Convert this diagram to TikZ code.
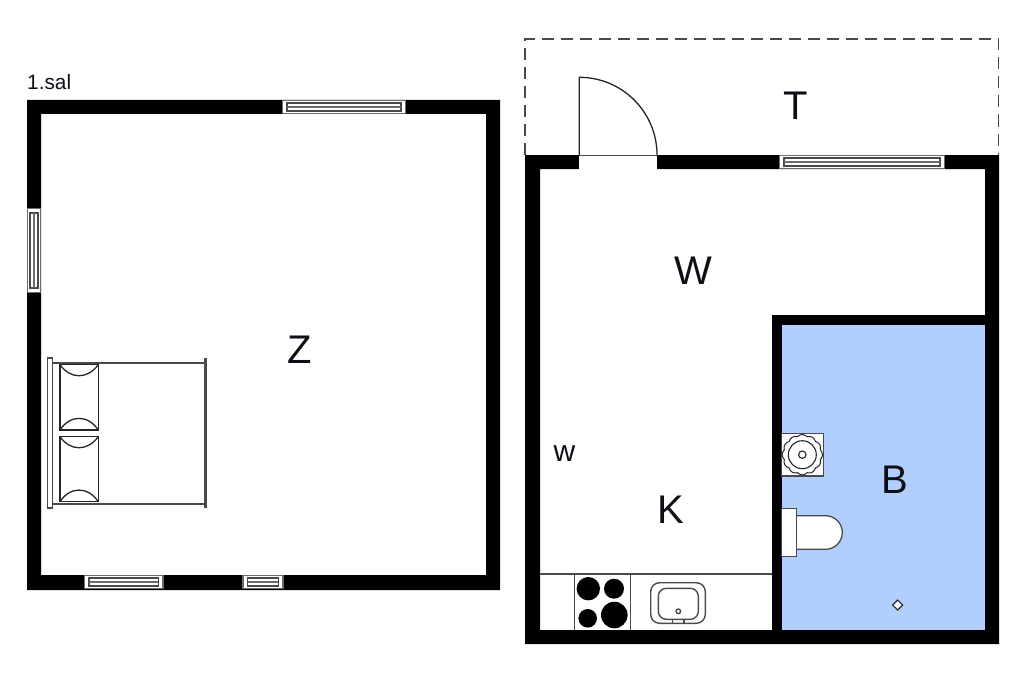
\documentclass[tikz,border=0pt]{standalone}
\usepackage{fontspec}
\setmainfont{Liberation Sans}
\definecolor{bathblue}{HTML}{B0CFFF}
\definecolor{linegrey}{HTML}{4A4A4A}
\definecolor{inkdark}{HTML}{0E0E16}
\newcommand{\hwin}[3]{%
  \fill[white] (#1,#3) rectangle (#2,#3+14);
  \draw[wingrey] (#1,#3+0.5) -- (#2,#3+0.5) (#1,#3+13.5) -- (#2,#3+13.5) (#1+0.5,#3) -- (#1+0.5,#3+14) (#2-0.5,#3) -- (#2-0.5,#3+14);
  \draw[winline] (#1+5,#3+3) rectangle (#2-5,#3+11);
  \draw[wingrey] (#1+5,#3+7) -- (#2-5,#3+7);
}
\newcommand{\vwin}[3]{%
  \fill[white] (#1,#2) rectangle (#1+14,#3);
  \draw[wingrey] (#1+0.5,#2) -- (#1+0.5,#3) (#1+13.5,#2) -- (#1+13.5,#3) (#1,#2+0.5) -- (#1+14,#2+0.5) (#1,#3-0.5) -- (#1+14,#3-0.5);
  \draw[winline] (#1+3,#2+5) rectangle (#1+11,#3-5);
  \draw[wingrey] (#1+7,#2+5) -- (#1+7,#3-5);
}
\newcommand{\pillow}[2]{%
  \draw[fixture] (60,#1) rectangle (98.3,#2);
  \draw[fixture] (60,#1) .. controls (70,#1+15) and (88,#1+15) .. (98.3,#1);
  \draw[fixture] (60,#2) .. controls (70,#2-15.5) and (88,#2-15.5) .. (98.3,#2);
}
\tikzset{
  wingrey/.style={draw=gray!85!black,line width=1.5pt},
  winline/.style={draw=linegrey,line width=1.3pt},
  fixture/.style={draw=black!85,line width=1.3pt},
  thinline/.style={draw=linegrey,line width=1.4pt},
  wall/.style={fill=black,draw=none},
  biglabel/.style={font=\fontsize{40}{40}\selectfont,text=inkdark,inner sep=0pt},
  smalllabel/.style={text=inkdark,inner sep=0pt}
}
\begin{document}
\begin{tikzpicture}[x=1pt,y=-1pt]
\useasboundingbox (0,0) rectangle (1024,682);
\fill[white] (0,0) rectangle (1024,682);
% terrace
\draw[thinline,dash pattern=on 12pt off 7pt] (525,155) -- (525,39) -- (998.5,39) -- (998.5,155);
% bathroom floor
\fill[bathblue] (782,325) rectangle (985,630);
% walls, left building
\fill[wall,even odd rule] (27,100) rectangle (500,590) (41,114) rectangle (486,575);
% walls, right building
\fill[wall,even odd rule] (525,155) rectangle (999,644) (540,169) rectangle (985,630);
\fill[wall] (771.7,315) rectangle (781.7,630);
\fill[wall] (771.7,315) rectangle (985,325);
% door
\fill[white] (579.3,154) rectangle (657,169.5);
\draw[thinline,line width=1.6pt] (579.3,155.5) -- (657,155.5);
\draw[fixture] (579.3,155) -- (579.3,77.3) .. controls (622.2,77.3) and (657,112.1) .. (657,155);
% windows
\hwin{282}{406}{100}
\hwin{84}{163.3}{575}
\hwin{242.7}{283.3}{575}
\vwin{27}{208}{293}
\hwin{779}{945}{155}
% bed
\draw[draw=linegrey,fill=white,line width=1.3pt] (47.5,358) rectangle (52.3,508);
\draw[draw=linegrey,line width=1.6pt] (52.3,362.7) -- (205.3,362.7);
\draw[draw=linegrey,line width=1.6pt] (52.3,503.7) -- (205.3,503.7);
\draw[draw=linegrey,line width=2.4pt] (205.3,358) -- (205.3,508);
\pillow{364.5}{430}
\pillow{436.5}{501.7}
% kitchen counter
\draw[thinline] (540,574) -- (771.7,574);
\draw[thinline] (574.3,574) -- (574.3,630);
\draw[thinline] (630.3,574) -- (630.3,630);
\fill[black] (588.3,588.7) circle[radius=11.7];
\fill[black] (614,588.7) circle[radius=10];
\fill[black] (587.7,618.3) circle[radius=9.3];
\fill[black] (614.3,615) circle[radius=13.3];
\draw[thinline,rounded corners=9pt] (650.7,582.7) rectangle (705.3,623.3);
\draw[thinline,rounded corners=8pt] (658.3,588.3) rectangle (698.3,619.3);
\draw[thinline] (672.3,619.3) -- (672.3,623.3) (684,619.3) -- (684,623.3);
\draw[thinline] (678.3,611.3) circle[radius=2.3];
% washbasin
\draw[draw=linegrey,fill=white,line width=1.3pt] (781.7,433.3) rectangle (823.3,476);
\draw[fixture,line width=1pt,smooth] plot[domain=0:360,samples=145] ({802.3+(18.6+1.5*abs(cos(6*\x)))*cos(\x)},{454.7+(18.6+1.5*abs(cos(6*\x)))*sin(\x)});
\draw[fixture,line width=1.1pt] (802.3,454.7) circle[radius=14];
\draw[fixture,line width=1.1pt] (802.3,454.7) circle[radius=3.7];
% toilet
\draw[draw=linegrey,fill=white,line width=1.3pt] (796.7,515.7) -- (825.5,515.7) .. controls (834.8,515.7) and (842.3,523.2) .. (842.3,532.5) .. controls (842.3,541.8) and (834.8,549.3) .. (825.5,549.3) -- (796.7,549.3);
\draw[draw=linegrey,fill=white,line width=1.3pt] (781.7,508.7) rectangle (796.7,556.7);
% floor drain
\draw[fixture,fill=white,line width=1.1pt] (892.7,605) -- (895.2,602.5) -- (897.7,600) -- (900.2,602.5) -- (902.7,605) -- (900.2,607.5) -- (897.7,610) -- (895.2,607.5) -- cycle;
% labels
\node[smalllabel,font=\fontsize{20.8}{21}\selectfont,anchor=base west] (sal) at (27,90) {1.sal};
\node[biglabel] (Z) at (299.5,349.5) {Z};
\node[biglabel] (T) at (795.5,105.5) {T};
\node[biglabel] (W) at (693,270.5) {W};
\node[biglabel] (K) at (670.5,509.5) {K};
\node[biglabel] (B) at (894.5,479.5) {B};
\node[smalllabel,font=\fontsize{30}{30}\selectfont] (w) at (564.5,454) {w};
\end{tikzpicture}
\end{document}
